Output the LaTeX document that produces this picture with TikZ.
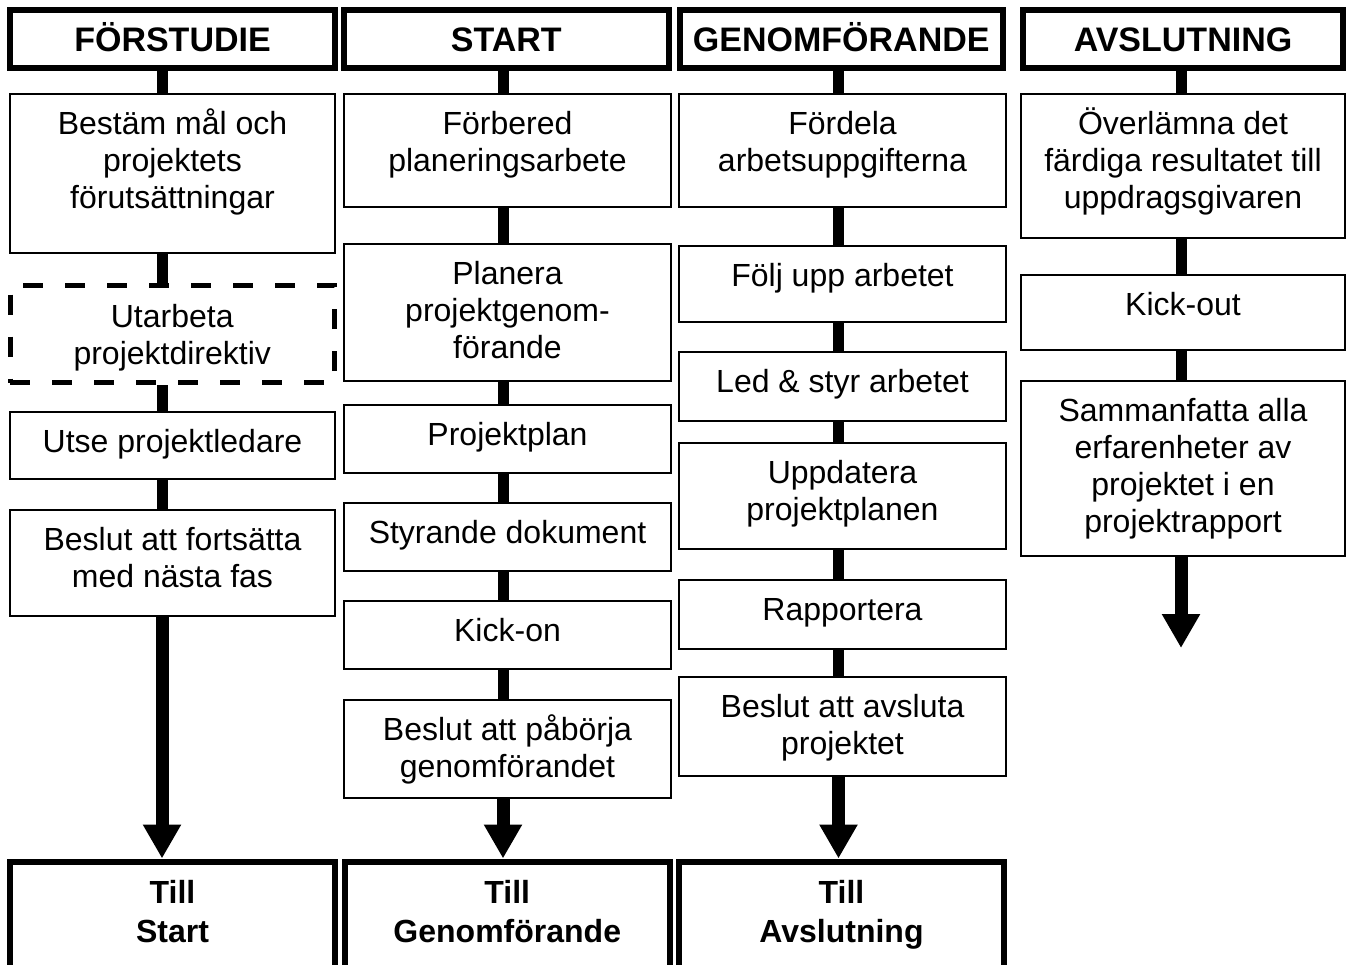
\documentclass[tikz,border=0pt]{standalone}
\usepackage{fontspec}
\setmainfont{Liberation Sans}
\usetikzlibrary{fit,arrows.meta}
\newcommand\firststrut{\rule{0pt}{15pt}}
\begin{document}
\begin{tikzpicture}[x=0.5pt,y=-0.5pt,
  nbox/.style={draw, line width=1pt, inner sep=0pt},
  dbox/.style={draw, line width=2.5pt, dash pattern=on 10pt off 11pt, inner sep=0pt},
  hbox/.style={draw, line width=3pt, inner sep=0pt},
  txt/.style={anchor=north, inner sep=0pt, align=center, font=\fontsize{16pt}{18.5pt}\selectfont, yshift=-5.5pt},
  htxt/.style={anchor=base, inner sep=0pt, font=\bfseries\fontsize{17pt}{20pt}\selectfont},
  etxt/.style={anchor=north, inner sep=0pt, align=center, font=\bfseries\fontsize{16pt}{19.5pt}\selectfont, yshift=-7.25pt},
  bar/.style={line width=5.5pt},
  arr/.style={line width=6.5pt, -{Triangle[width=18pt,length=17pt]}}]
\clip (0,0) rectangle (1354,964);
\fill[white] (0,0) rectangle (1354,964);

% column axes
\coordinate (c1) at (162,0);
\coordinate (c2) at (503,0);
\coordinate (c3) at (838.5,0);
\coordinate (c4) at (1181,0);

% headers
\node[hbox, fit={(10,10) (335,68)}] (h1) {};
\node[hbox, fit={(343.5,10) (669,68)}] (h2) {};
\node[hbox, fit={(680,10) (1002.5,68)}] (h3) {};
\node[hbox, fit={(1023,10) (1343,68)}] (h4) {};
\node[htxt] (ht1) at ([yshift=-6pt]h1.center) {FÖRSTUDIE};
\node[htxt] (ht2) at ([yshift=-6pt]h2.center) {START};
\node[htxt] (ht3) at ([yshift=-6pt]h3.center) {GENOMFÖRANDE};
\node[htxt] (ht4) at ([yshift=-6pt]h4.center) {AVSLUTNING};

% bottom boxes
\node[hbox, fit={(10,861.5) (335,1000)}] (e1) {};
\node[hbox, fit={(344.5,861.5) (670,1000)}] (e2) {};
\node[hbox, fit={(679,861.5) (1004,1000)}] (e3) {};
\node[etxt] (et1) at (e1.north) {\firststrut Till\\Start};
\node[etxt] (et2) at (e2.north) {\firststrut Till\\Genomförande};
\node[etxt] (et3) at (e3.north) {\firststrut Till\\Avslutning};

% column 1
\node[nbox, fit={(10,94) (335,253)}] (b11) {};
\node[dbox, fit={(10,285) (334.5,382.5)}] (b12) {};
\node[nbox, fit={(10,412) (335,479)}] (b13) {};
\node[nbox, fit={(10,510) (335,616)}] (b14) {};
\node[txt] (t11) at (b11.north) {\firststrut Bestäm mål och\\projektets\\förutsättningar};
\node[txt, yshift=-2pt] (t12) at (b12.north) {\firststrut Utarbeta\\projektdirektiv};
\node[txt] (t13) at (b13.north) {\firststrut Utse projektledare};
\node[txt] (t14) at (b14.north) {\firststrut Beslut att fortsätta\\med nästa fas};

% column 2
\node[nbox, fit={(344,94) (671,207)}] (b21) {};
\node[nbox, fit={(344,244) (671,381)}] (b22) {};
\node[nbox, fit={(344,405) (671,473)}] (b23) {};
\node[nbox, fit={(344,503) (671,571)}] (b24) {};
\node[nbox, fit={(344,601) (671,669)}] (b25) {};
\node[nbox, fit={(344,700) (671,798)}] (b26) {};
\node[txt] (t21) at (b21.north) {\firststrut Förbered\\planeringsarbete};
\node[txt] (t22) at (b22.north) {\firststrut Planera\\projektgenom-\\förande};
\node[txt] (t23) at (b23.north) {\firststrut Projektplan};
\node[txt] (t24) at (b24.north) {\firststrut Styrande dokument};
\node[txt] (t25) at (b25.north) {\firststrut Kick-on};
\node[txt] (t26) at (b26.north) {\firststrut Beslut att påbörja\\genomförandet};

% column 3
\node[nbox, fit={(679,94) (1006,207)}] (b31) {};
\node[nbox, fit={(679,246) (1006,322)}] (b32) {};
\node[nbox, fit={(679,352) (1006,421)}] (b33) {};
\node[nbox, fit={(679,443) (1006,549)}] (b34) {};
\node[nbox, fit={(679,580) (1006,649)}] (b35) {};
\node[nbox, fit={(679,677) (1006,776)}] (b36) {};
\node[txt] (t31) at (b31.north) {\firststrut Fördela\\arbetsuppgifterna};
\node[txt] (t32) at (b32.north) {\firststrut Följ upp arbetet};
\node[txt] (t33) at (b33.north) {\firststrut Led \& styr arbetet};
\node[txt] (t34) at (b34.north) {\firststrut Uppdatera\\projektplanen};
\node[txt] (t35) at (b35.north) {\firststrut Rapportera};
\node[txt] (t36) at (b36.north) {\firststrut Beslut att avsluta\\projektet};

% column 4
\node[nbox, fit={(1021,94) (1345,238)}] (b41) {};
\node[nbox, fit={(1021,275) (1345,350)}] (b42) {};
\node[nbox, fit={(1021,381) (1345,556)}] (b43) {};
\node[txt] (t41) at (b41.north) {\firststrut Överlämna det\\färdiga resultatet till\\uppdragsgivaren};
\node[txt] (t42) at (b42.north) {\firststrut Kick-out};
\node[txt] (t43) at (b43.north) {\firststrut Sammanfatta alla\\erfarenheter av\\projektet i en\\projektrapport};
\coordinate (end4) at (1181,648);

% connectors column 1
\draw[bar] (h1.south -| c1) -- (b11.north -| c1);
\draw[bar] (b11.south -| c1) -- (b12.north -| c1);
\draw[bar] (b12.south -| c1) -- (b13.north -| c1);
\draw[bar] (b13.south -| c1) -- (b14.north -| c1);
\draw[arr] (b14.south -| c1) -- (e1.north -| c1);

% connectors column 2
\draw[bar] (h2.south -| c2) -- (b21.north -| c2);
\draw[bar] (b21.south -| c2) -- (b22.north -| c2);
\draw[bar] (b22.south -| c2) -- (b23.north -| c2);
\draw[bar] (b23.south -| c2) -- (b24.north -| c2);
\draw[bar] (b24.south -| c2) -- (b25.north -| c2);
\draw[bar] (b25.south -| c2) -- (b26.north -| c2);
\draw[arr] (b26.south -| c2) -- (e2.north -| c2);

% connectors column 3
\draw[bar] (h3.south -| c3) -- (b31.north -| c3);
\draw[bar] (b31.south -| c3) -- (b32.north -| c3);
\draw[bar] (b32.south -| c3) -- (b33.north -| c3);
\draw[bar] (b33.south -| c3) -- (b34.north -| c3);
\draw[bar] (b34.south -| c3) -- (b35.north -| c3);
\draw[bar] (b35.south -| c3) -- (b36.north -| c3);
\draw[arr] (b36.south -| c3) -- (e3.north -| c3);

% connectors column 4
\draw[bar] (h4.south -| c4) -- (b41.north -| c4);
\draw[bar] (b41.south -| c4) -- (b42.north -| c4);
\draw[bar] (b42.south -| c4) -- (b43.north -| c4);
\draw[arr] (b43.south -| c4) -- (end4);
\end{tikzpicture}
\end{document}
